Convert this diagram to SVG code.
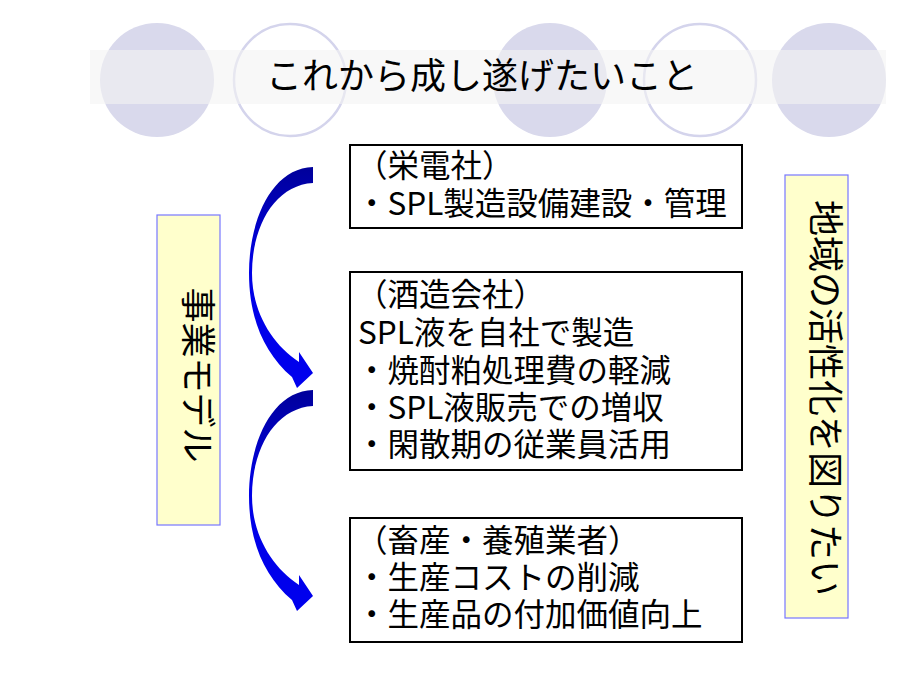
<svg xmlns="http://www.w3.org/2000/svg" width="920" height="690" viewBox="0 0 920 690">
  <style>
    .t { font-family: "Noto Sans CJK JP", "Noto Sans", sans-serif; fill: #000; }
    .box { fill: #fff; stroke: #000; stroke-width: 2; }
    .vbox { fill: #ffffcc; stroke: #7777ff; stroke-width: 1.2; }
    .cf { fill: #d9d9ec; }
    .co { fill: none; stroke: #d4d4ec; stroke-width: 2.5; }
    .body { font-size: 31.5px; }
  </style>
  <defs>
    <linearGradient id="ag" x1="0" y1="0" x2="0" y2="1">
      <stop offset="0" stop-color="#00009a"/>
      <stop offset="0.45" stop-color="#0000e6"/>
      <stop offset="1" stop-color="#0000ee"/>
    </linearGradient>
    <path id="carrow" d="M 313 167 C 272 168 249 220 249 273 C 249 318 264 353 292 377 L 297 388 L 313 373 L 299 352 L 299 362 C 272 344 252 312 252 273 C 252 226 275 185 313 183 Z"/>
  </defs>
  <rect width="920" height="690" fill="#fff"/>

  <g id="title">
    <circle class="cf" cx="157" cy="80" r="57"/>
    <circle class="co" cx="290" cy="80" r="56"/>
    <circle class="cf" cx="550" cy="80" r="57"/>
    <circle class="co" cx="700" cy="80" r="56"/>
    <circle class="cf" cx="829" cy="80" r="57"/>
    <rect x="90" y="50" width="796" height="54" fill="#f4f4f4" fill-opacity="0.6"/>
    <text class="t" x="482" y="89" font-size="36" text-anchor="middle">これから成し遂げたいこと</text>
  </g>

  <g id="connectors">
    <use href="#carrow" fill="url(#ag)"/>
    <use href="#carrow" fill="url(#ag)" transform="translate(0,223)"/>
  </g>

  <g id="business-model">
    <rect class="vbox" x="157" y="215" width="63" height="310"/>
    <text class="t" font-size="35" text-anchor="middle" transform="translate(185,375) rotate(90)">事業モデル</text>
  </g>

  <g id="regional">
    <rect class="vbox" x="785" y="175" width="63" height="443"/>
    <text class="t" font-size="36" text-anchor="middle" transform="translate(812,398) rotate(90)">地域の活性化を図りたい</text>
  </g>

  <g id="eidensha">
    <rect class="box" x="350" y="145" width="392" height="83"/>
    <text class="t body"><tspan x="356" y="177">（栄電社）</tspan><tspan x="356" y="215">・SPL製造設備建設・管理</tspan></text>
  </g>

  <g id="brewery">
    <rect class="box" x="350" y="272" width="392" height="198"/>
    <text class="t body"><tspan x="356" y="306">（酒造会社）</tspan><tspan x="358" y="344">SPL液を自社で製造</tspan><tspan x="356" y="382">・焼酎粕処理費の軽減</tspan><tspan x="356" y="419">・SPL液販売での増収</tspan><tspan x="356" y="456">・閑散期の従業員活用</tspan></text>
  </g>

  <g id="livestock">
    <rect class="box" x="350" y="518" width="392" height="124"/>
    <text class="t body"><tspan x="356" y="552">（畜産・養殖業者）</tspan><tspan x="356" y="589">・生産コストの削減</tspan><tspan x="356" y="626">・生産品の付加価値向上</tspan></text>
  </g>
</svg>
